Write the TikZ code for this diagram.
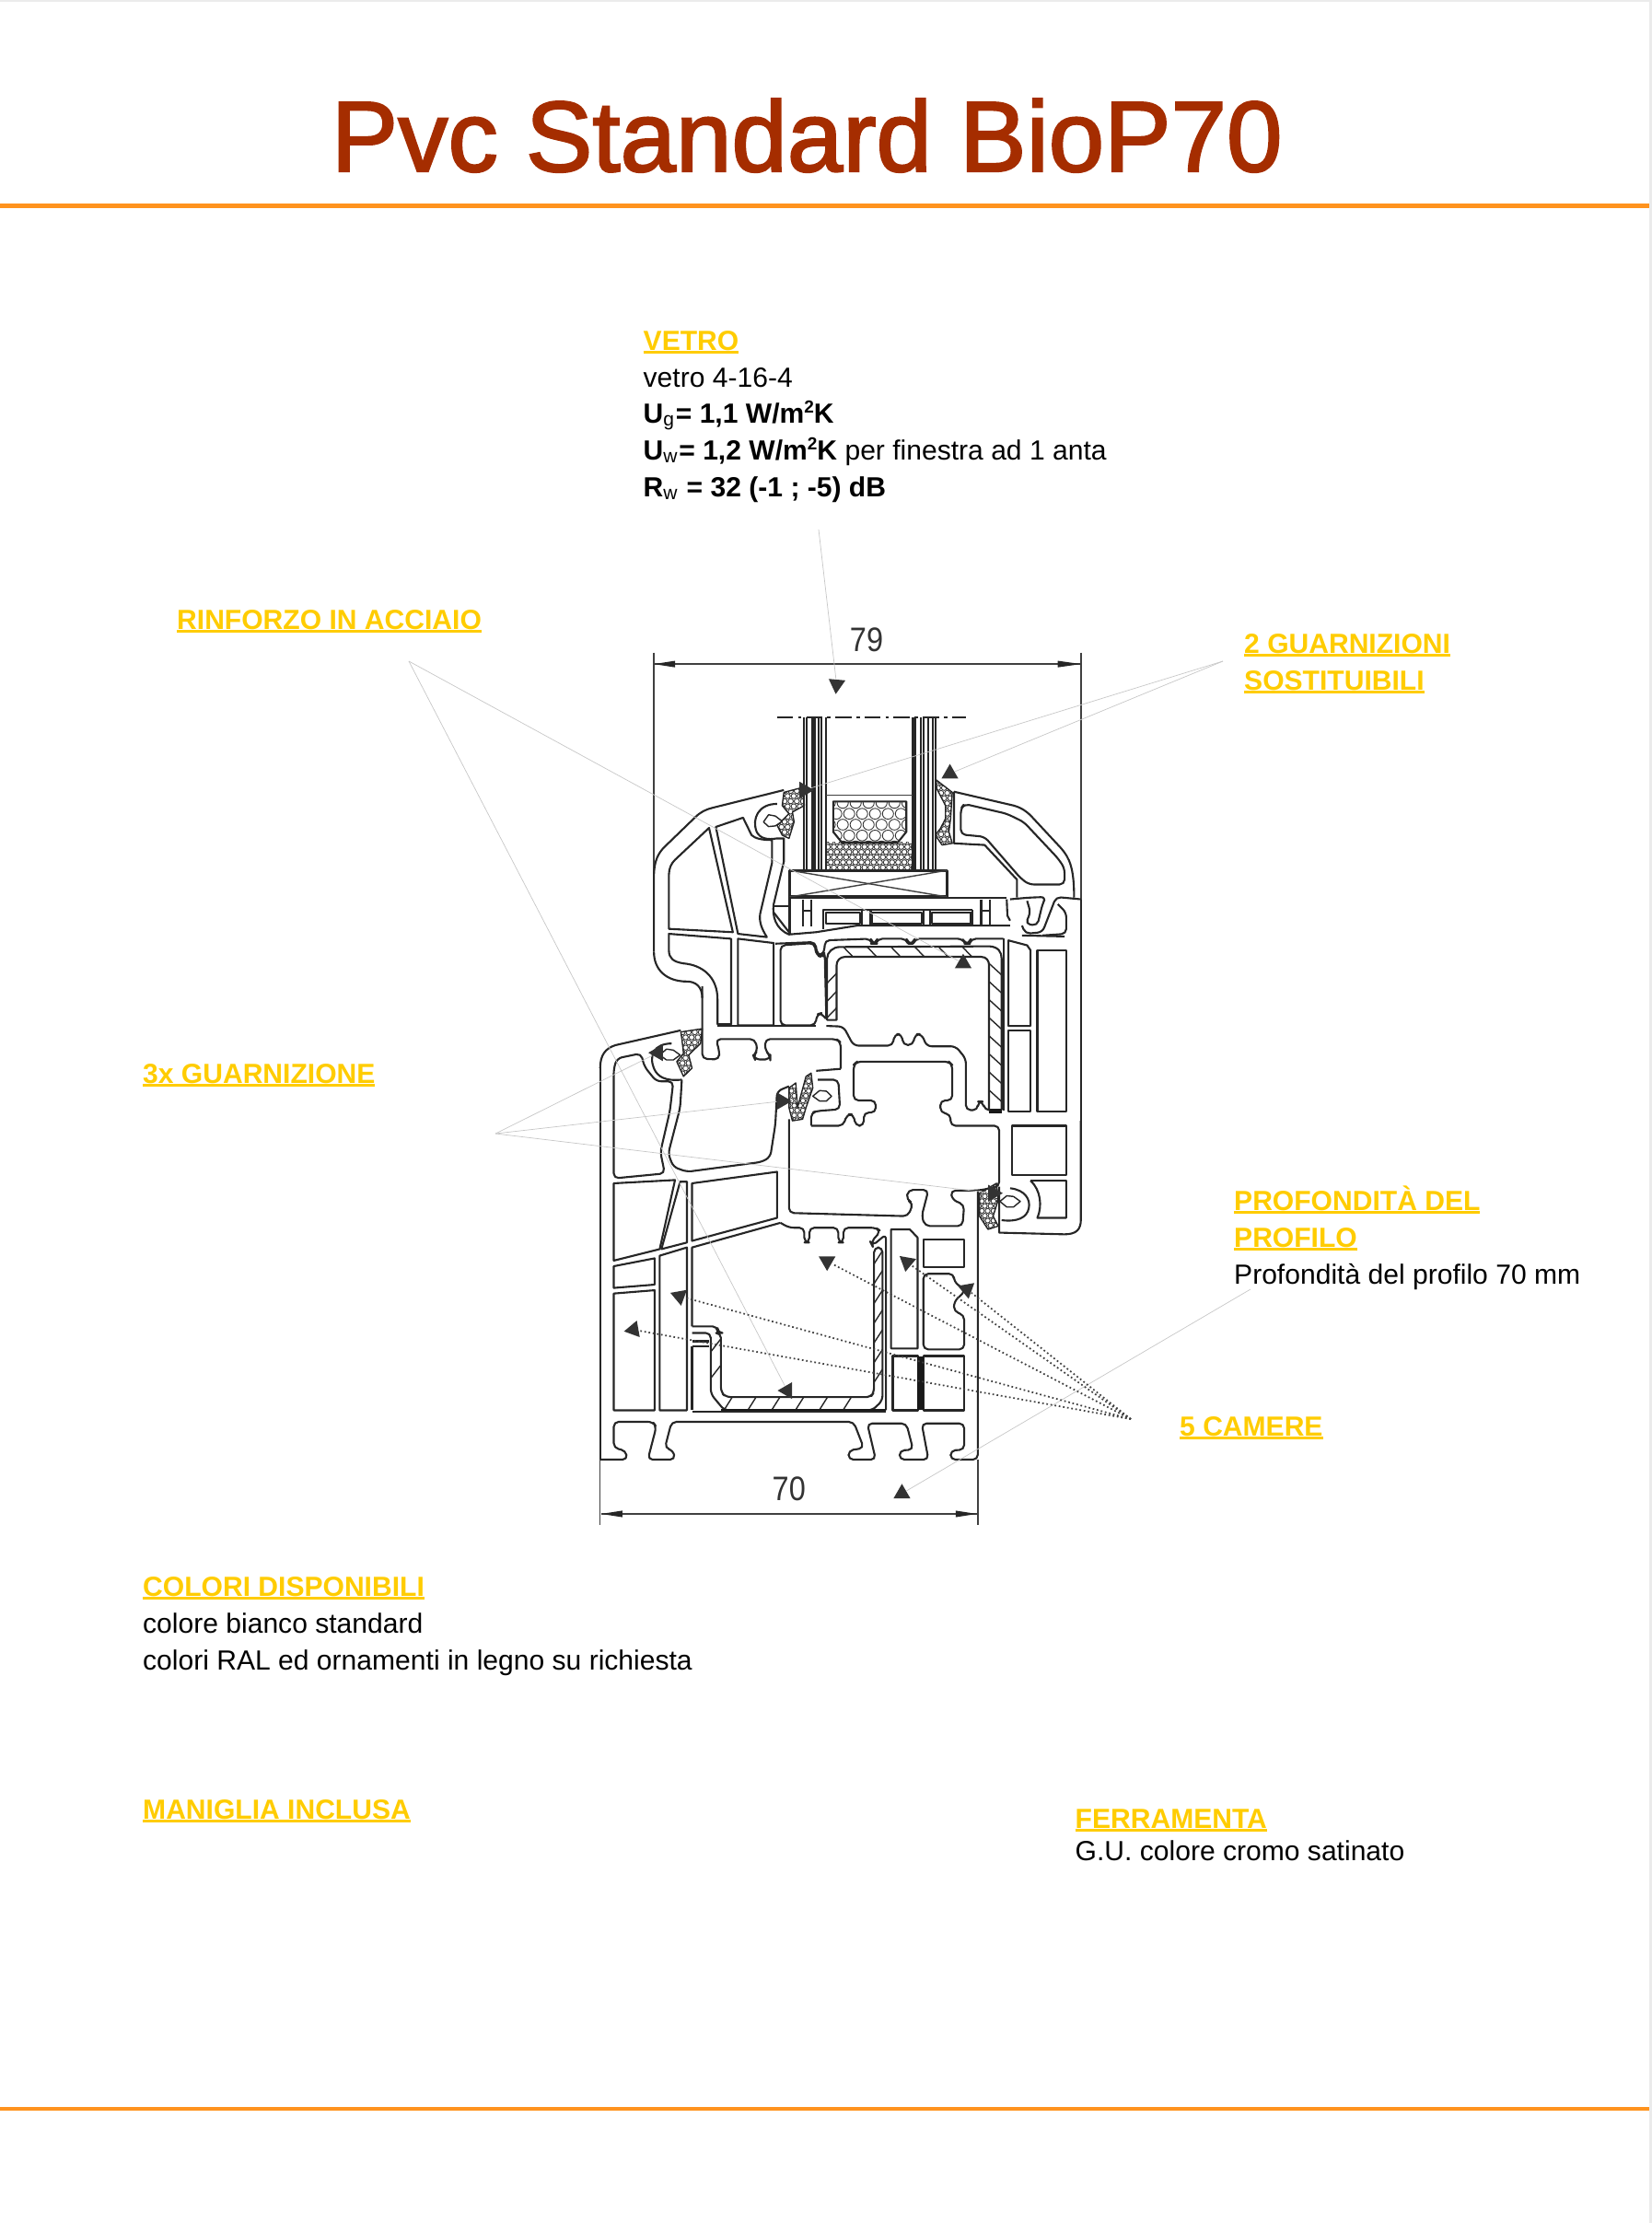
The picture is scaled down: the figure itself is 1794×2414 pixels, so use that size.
\documentclass[tikz,border=0pt]{standalone}
\usepackage{fontspec}
\setmainfont{Liberation Sans}
\newfontfamily\titolofont[FakeBold=2]{Liberation Sans}
\usetikzlibrary{shapes.geometric}
\definecolor{titolocol}{RGB}{165,45,0}
\definecolor{giallo}{RGB}{255,204,0}
\definecolor{arancio}{RGB}{255,147,30}
\newcommand{\gialla}[1]{\setbox0\hbox{\bfseries #1}\rlap{\rule[-0.13em]{\wd0}{0.09em}}\box0}
\newcommand{\quadro}{\raisebox{0.36em}{\fontsize{5.4}{6}\selectfont 2}}
\newcommand{\maglia}[5]{\foreach \i in {0,...,#3}{\foreach \j in {0,...,#4}{\draw[retino] ({#1+(\i+0.5*mod(\j,2))*#5},{#2+\j*#5*0.87}) circle[radius={#5*0.43}];}}}
\tikzset{
  testo/.style={anchor=base west,inner sep=0pt,font=\fontsize{8.55}{10}\selectfont},
  etichetta/.style={testo,text=giallo},
  prof/.style={draw=black!85,line width=0.6pt,line join=round},
  rprof/.style={prof,rounded corners=1.5pt},
  spesso/.style={draw=black!90,line width=1.3pt},
  sottile/.style={draw=black!75,line width=0.4pt},
  retino/.style={draw=black!80,line width=0.25pt},
  guida/.style={draw=black!22,line width=0.2pt},
  punti/.style={draw=black!75,line width=0.5pt,dash pattern=on 0.5pt off 0.8pt},
  freccia/.style={regular polygon,regular polygon sides=3,fill=black!80,inner sep=0pt,minimum size=0.21cm},
  quota/.style={inner sep=0pt,text=black!80,xscale=0.88,font=\fontsize{10.5}{12}\selectfont},
  zuno/.style={x=0.0037cm,y=-0.003571cm,xshift=6.2cm,yshift=-6.6cm},
  zdue/.style={x=0.0037cm,y=-0.003571cm,xshift=6.2cm,yshift=-11.2cm},
}
\begin{document}
\begin{tikzpicture}[x=0.01cm,y=-0.01cm]
\useasboundingbox (0,0) rectangle (1794,2414);
\fill[black!8] (1791,0) rectangle (1794,2414);
\fill[black!8] (0,0) rectangle (1791,1.5);
\draw[arancio,line width=1.3pt] (0,223.5) -- (1791,223.5);
\draw[arancio,line width=1.3pt] (0,2290) -- (1791,2290);
\node[anchor=base west,inner sep=0pt,text=titolocol,font=\fontsize{30.9}{36}\titolofont] (titolo) at (359,186) {Pvc Standard BioP70};

% testi
\node[etichetta] (vetro) at (698,380) {\gialla{VETRO}};
\node[testo] (vetro1) at (698,420) {vetro 4-16-4};
\node[testo] (vetro2) at (698,459) {\textbf{U}\textsubscript{g}\textbf{= 1,1 W/m\quadro K}};
\node[testo] (vetro3) at (698,499) {\textbf{U}\textsubscript{w}\textbf{= 1,2 W/m\quadro K} per finestra ad 1 anta};
\node[testo] (vetro4) at (698,539) {\textbf{R}\textsubscript{w}\textbf{ = 32 (-1 ; -5) dB}};
\node[etichetta] (rinforzo) at (191.5,683) {\gialla{RINFORZO IN ACCIAIO}};
\node[etichetta] (guarn2a) at (1350.5,709) {\gialla{2 GUARNIZIONI}};
\node[etichetta] (guarn2b) at (1350.5,749) {\gialla{SOSTITUIBILI}};
\node[etichetta] (guarn3) at (154.5,1176) {\gialla{3x GUARNIZIONE}};
\node[etichetta] (prof1) at (1339.5,1314) {\gialla{PROFONDITÀ DEL}};
\node[etichetta] (prof2) at (1339.5,1354) {\gialla{PROFILO}};
\node[testo] (prof3) at (1339.5,1394) {Profondità del profilo 70 mm};
\node[etichetta] (camere) at (1280.5,1559) {\gialla{5 CAMERE}};
\node[etichetta] (colori) at (154.5,1733) {\gialla{COLORI DISPONIBILI}};
\node[testo] (colori1) at (154.5,1773) {colore bianco standard};
\node[testo] (colori2) at (154.5,1813) {colori RAL ed ornamenti in legno su richiesta};
\node[etichetta] (maniglia) at (154.5,1975) {\gialla{MANIGLIA INCLUSA}};
\node[etichetta] (ferramenta) at (1167,1985) {\gialla{FERRAMENTA}};
\node[testo] (ferr1) at (1167,2020) {G.U. colore cromo satinato};

\coordinate (oVetro) at (889,575);
\coordinate (oRinf) at (444,718);
\coordinate (oGuarn) at (1328,718);
\coordinate (oTre) at (538,1231);
\coordinate (oCam) at (1228,1541);
\coordinate (oProf) at (1358,1400);

% parte alta
\begin{scope}[zuno]
\draw[sottile] (243,135) -- (243,815);
\draw[sottile] (1498,135) -- (1498,885);
\node[quota] (q79) at (868,95) {79};
\coordinate (q79a) at (243,170);
\coordinate (q79b) at (1498,170);
\draw[sottile] (q79a) -- (q79b);
\fill[black!85] (q79a) -- (305,160) -- (305,180) -- cycle;
\fill[black!85] (q79b) -- (1430,160) -- (1430,180) -- cycle;
% vetro
\draw[prof,dash pattern=on 5pt off 1.5pt on 1pt off 1.5pt,line width=0.5pt] (605,332) -- (1160,332);
\foreach \xx in {685,692,708,715,728,735,748,1003,1010,1028,1035,1050,1062,1070}
  \draw[prof] (\xx,332) -- (\xx,795);
\draw[sottile] (750,568) -- (1003,568);
\begin{scope}
\clip (752,712) rectangle (1000,792);
\maglia{745}{710}{14}{5}{18}
\end{scope}
\draw[prof,fill=white] (770,588) -- (985,588) -- (985,680) -- (960,712) -- (795,712) -- (770,680) -- cycle;
\begin{scope}
\clip (770,588) -- (985,588) -- (985,680) -- (960,712) -- (795,712) -- (770,680) -- cycle;
\maglia{760}{592}{6}{4}{38}
\end{scope}
\draw[prof,line width=0.9pt] (642,797) rectangle (1105,878);
\draw[sottile] (642,797) -- (1105,878);
\draw[sottile] (642,878) -- (1105,797);
% fermavetro sinistro
\draw[prof] (243,1045) -- (243,815) .. controls (243,770) and (255,745) .. (275,725) -- (365,635) .. controls (380,620) and (395,612) .. (415,607) -- (625,553);
\draw[prof] (405,668) -- (475,985) -- (287,975) -- (287,810) .. controls (287,790) and (295,775) .. (305,765) -- cycle;
\draw[prof] (425,665) -- (505,637) -- (530,690) .. controls (540,700) and (560,705) .. (590,705) -- (590,775) -- (555,930) .. controls (552,955) and (560,975) .. (575,1000) -- (490,990) -- cycle;
\draw[prof] (605,595) .. controls (550,595) and (530,640) .. (545,680) .. controls (555,700) and (575,705) .. (605,700) -- (625,700) -- (625,770) -- (595,900) .. controls (590,935) and (600,975) .. (640,992) -- (720,985) -- (840,965) -- (1290,965);
% guarnizioni alte
\begin{scope}
\clip (625,560) -- (680,545) -- (685,600) -- (650,620) -- (655,650) -- (640,700) -- (620,690) -- (605,660) -- (640,625) -- (620,600) -- cycle;
\maglia{600}{540}{5}{11}{18}
\end{scope}
\draw[prof,line width=0.4pt] (625,560) -- (680,545) -- (685,600) -- (650,620) -- (655,650) -- (640,700) -- (620,690) -- (605,660) -- (640,625) -- (620,600) -- cycle;
\draw[prof,fill=white,line width=0.4pt] (565,650) -- (580,628) -- (600,632) -- (620,648) -- (600,662) -- (580,664) -- cycle;
\begin{scope}
\clip (1070,520) -- (1120,560) -- (1115,640) -- (1110,680) -- (1120,715) -- (1090,720) -- (1070,690) -- (1085,670) -- (1100,640) -- (1100,600) -- (1075,550) -- cycle;
\maglia{1060}{515}{4}{13}{18}
\end{scope}
\draw[prof,line width=0.4pt] (1070,520) -- (1120,560) -- (1115,640) -- (1110,680) -- (1120,715) -- (1090,720) -- (1070,690) -- (1085,670) -- (1100,640) -- (1100,600) -- (1075,550) -- cycle;
% fermavetro destro
\draw[prof] (1125,558) -- (1300,600) .. controls (1325,607) and (1340,620) .. (1350,630) -- (1440,730) .. controls (1465,760) and (1478,790) .. (1478,880);
\draw[prof] (1125,558) -- (1125,715) -- (1215,720) -- (1310,825) -- (1310,880);
\draw[rprof] (1155,595) -- (1280,625) -- (1330,650) -- (1430,760) -- (1450,790) -- (1450,840) -- (1345,840) -- (1320,820) -- (1215,695) -- (1145,688) -- (1145,610) -- cycle;
% anta
\draw[prof] (642,880) -- (1280,880);
\draw[prof] (642,878) -- (642,990);
\draw[prof] (595,905) -- (642,905);
\draw[prof] (595,925) -- (640,985);
\foreach \xx in {680,705,1205,1230}
  \draw[prof] (\xx,885) -- (\xx,968);
\draw[prof] (680,920) -- (705,920);
\draw[prof] (1205,920) -- (1230,920);
\draw[prof] (740,975) -- (740,918) -- (1180,918);
\foreach \xx in {855,880,1035,1055,1180}
  \draw[prof] (\xx,918) -- (\xx,965);
\draw[prof] (748,960) rectangle (850,925);
\draw[prof] (885,960) rectangle (1030,925);
\draw[prof] (1060,960) rectangle (1175,925);
\draw[prof] (1280,885) -- (1282,935) -- (1290,950);
\draw[rprof] (1290,885) -- (1345,880) -- (1395,878) -- (1385,900) -- (1370,965) -- (1335,960) -- (1350,925) -- (1340,890);
\draw[rprof] (1498,885) -- (1425,878) -- (1415,905) -- (1385,985) -- (1335,990) -- (1325,965);
\draw[rprof] (1430,900) -- (1455,925) -- (1455,990) -- (1385,995);
\draw[prof] (1325,995) -- (1450,998);
\draw[rprof] (600,1020) -- (718,1015) -- (722,1050) -- (735,1058) -- (745,1040) -- (745,1010) -- (880,1005) -- (885,1020) -- (895,1020) -- (900,1005) -- (985,1005) -- (990,1020) -- (1005,1020) -- (1010,1005) -- (1150,1005) -- (1158,1020) -- (1170,1020) -- (1175,1005) -- (1270,1005);
% camere anta
\draw[prof] (287,990) -- (470,1005) -- (470,1265) -- (430,1265) -- (430,1190) .. controls (430,1120) and (385,1085) .. (330,1080) .. controls (300,1075) and (287,1065) .. (287,1040) -- cycle;
\draw[prof] (490,1005) -- (595,1018) -- (595,1268) -- (490,1268) -- cycle;
\draw[rprof] (615,1025) -- (715,1018) -- (720,1055) -- (740,1062) -- (745,1045) -- (750,1255) -- (738,1230) -- (722,1235) -- (718,1268) -- (615,1268) -- cycle;
% rinforzo alto
\draw[prof] (752,1252) -- (752,1065) .. controls (752,1045) and (770,1030) .. (790,1030) -- (1230,1028) .. controls (1255,1030) and (1265,1045) .. (1265,1065) -- (1265,1525) -- (1228,1525) -- (1228,1085) .. controls (1228,1072) and (1220,1060) .. (1205,1060) -- (805,1060) .. controls (790,1060) and (780,1072) .. (780,1085) -- (780,1252) -- cycle;
\foreach \xx in {800,870,940,1010,1080,1150}
  \draw[prof,line width=0.4pt] (\xx,1030) -- (\xx+28,1060);
\foreach \yy in {1080,1135,1190,1245,1300,1355,1410,1465}
  \draw[prof,line width=0.4pt] (1228,\yy) -- (1265,\yy+35);
\foreach \yy in {1110,1165,1215}
  \draw[prof,line width=0.4pt] (752,\yy+30) -- (780,\yy);
\draw[spesso] (1228,1528) -- (1265,1528);
% colonna destra
\draw[prof] (1285,1010) -- (1340,1025) -- (1350,1040) -- (1350,1270) -- (1285,1270) -- cycle;
\draw[prof] (1285,1285) rectangle (1350,1530);
\draw[prof] (1370,1040) rectangle (1455,1530);
\draw[prof] (1270,1005) -- (1270,1528);
\draw[prof] (1498,885) -- (1498,1830);
% lungo la parte bassa
\draw[rprof] (385,1150) -- (385,1370) -- (435,1372) -- (435,1345) -- (425,1310) -- (540,1310) -- (548,1345) -- (535,1360) -- (540,1372) -- (585,1372) -- (585,1360) -- (570,1345) -- (570,1310) -- (780,1310) -- (792,1320) -- (792,1400);
\draw[prof] (430,1270) -- (718,1270);
\draw[rprof] (750,1270) -- (800,1272) -- (830,1330) -- (945,1330) -- (950,1295) -- (972,1295) -- (975,1328) -- (1005,1328) -- (1010,1295) -- (1030,1295) -- (1045,1332) -- (1130,1332) -- (1160,1370) -- (1160,1526) -- (1195,1526) -- (1195,1500) -- (1210,1500) -- (1215,1526) -- (1228,1526);
\draw[prof] (243,1045) .. controls (243,1100) and (280,1135) .. (340,1135) .. controls (365,1135) and (385,1150) .. (385,1185);
\node[freccia,rotate=175] (tv) at (780,232) {};
\node[freccia] (tg1) at (1113,503) {};
\node[freccia,rotate=-90] (tg2) at (685,553) {};
\node[freccia] (tr1) at (1152,1080) {};
\end{scope}

% parte bassa
\begin{scope}[zdue]
\draw[prof] (85,110) .. controls (85,70) and (100,50) .. (130,40) -- (322,-5);
\draw[rprof] (125,110) -- (135,80) -- (205,65) -- (215,105) -- (250,150) -- (300,150) -- (290,240) -- (262,365) -- (275,430) -- (125,445) -- cycle;
\draw[prof] (85,110) -- (85,1300);
% guarnizione sinistra
\begin{scope}
\clip (322,0) -- (385,-10) -- (380,35) -- (345,70) -- (355,110) -- (330,135) -- (310,90) -- (330,65) -- (325,20) -- cycle;
\maglia{300}{-15}{5}{11}{18}
\end{scope}
\draw[prof,line width=0.4pt] (322,0) -- (385,-10) -- (380,35) -- (345,70) -- (355,110) -- (330,135) -- (310,90) -- (330,65) -- (325,20) -- cycle;
\draw[prof] (295,35) .. controls (245,35) and (225,70) .. (245,115) .. controls (255,135) and (275,150) .. (325,145);
\draw[prof,fill=white,line width=0.4pt] (260,70) -- (280,52) -- (300,55) -- (320,70) -- (300,85) -- (280,85) -- cycle;
% pareti
\draw[rprof] (325,145) -- (320,230) -- (285,370) -- (300,410) -- (340,425) -- (560,395) -- (585,380) -- (600,280) -- (605,180) -- (640,165);
\draw[prof] (792,112) -- (720,118);
\draw[rprof] (725,145) -- (785,145) -- (790,235) -- (725,240) -- (705,245) -- (705,285);
\begin{scope}
\clip (640,170) -- (660,155) -- (665,230) -- (690,135) -- (705,125) -- (710,170) -- (690,230) -- (680,265) -- (650,270) -- (640,230) -- cycle;
\maglia{630}{120}{5}{10}{17}
\end{scope}
\draw[prof,line width=0.4pt] (640,170) -- (660,155) -- (665,230) -- (690,135) -- (705,125) -- (710,170) -- (690,230) -- (680,265) -- (650,270) -- (640,230) -- cycle;
\draw[prof,fill=white,line width=0.4pt] (710,195) -- (730,178) -- (750,180) -- (765,195) -- (750,210) -- (730,210) -- cycle;
% camere centrali
\draw[rprof] (705,285) -- (800,285) -- (810,250) -- (830,250) -- (835,285) -- (860,285) -- (860,245) -- (895,245) -- (895,208) -- (830,208) -- (830,100) -- (840,90) -- (1110,90) -- (1120,100) -- (1120,208) -- (1085,208) -- (1085,245) -- (1115,250) -- (1115,285) -- (1258,285) -- (1258,470) -- (1195,482) -- (1115,482) -- (1120,510) -- (1155,525) -- (1150,590) -- (1040,590) -- (1030,560) -- (1050,480) -- (990,480) -- (985,510) -- (1005,520) -- (990,560) -- (640,550) -- (640,265);
\draw[rprof] (615,580) -- (640,595) -- (685,595) -- (685,640) -- (700,640) -- (700,595) -- (785,595) -- (785,640) -- (800,640) -- (800,595) -- (895,595) -- (910,605) -- (880,640) -- (885,650) -- (925,615) -- (925,1150);
\draw[prof] (615,580) -- (355,655) -- (355,895);
\draw[prof] (355,1150) -- (355,955);
% rinforzo basso
\draw[rprof] (355,895) -- (430,895) -- (430,915) -- (440,915) -- (440,1095) -- (455,1110) -- (880,1110) -- (890,1095) -- (890,655) -- (915,655) -- (915,1120) -- (885,1150) -- (450,1150) -- (410,1100) -- (410,915) -- (355,915);
\draw[prof] (355,940) -- (405,940);
\draw[prof] (355,955) -- (405,955);
\foreach \yy in {665,725,785,845,905,965,1025}
  \draw[prof,line width=0.4pt] (890,\yy+40) -- (915,\yy);
\foreach \xx in {450,520,590,660,730,800}
  \draw[prof,line width=0.4pt] (\xx,1148) -- (\xx+22,1112);
\foreach \yy in {935,1015}
  \draw[prof,line width=0.4pt] (412,\yy+35) -- (438,\yy);
\draw[spesso] (440,1152) -- (925,1152);
\draw[prof] (355,1155) -- (925,1155);
% camere telaio
\draw[prof] (125,460) -- (305,450) -- (260,660) -- (125,695) -- cycle;
\draw[prof] (320,455) -- (340,455) -- (340,640) -- (265,660) -- cycle;
\draw[prof] (355,460) -- (605,425) -- (605,565) -- (355,635) -- cycle;
\draw[prof] (125,712) -- (245,688) -- (245,768) -- (125,778) -- cycle;
\draw[prof] (125,795) -- (245,785) -- (245,1150) -- (125,1150) -- cycle;
\draw[prof] (260,680) -- (340,655) -- (340,1150) -- (260,1150) -- cycle;
\draw[prof] (940,600) -- (995,600) -- (1018,625) -- (1018,962) -- (940,962) -- cycle;
\draw[prof] (1035,630) rectangle (1155,715);
\draw[rprof] (1035,735) -- (1125,735) -- (1125,760) -- (1160,785) -- (1125,820) -- (1125,850) -- (1155,860) -- (1155,965) -- (1035,965) -- cycle;
\draw[prof] (945,985) rectangle (1020,1150);
\draw[prof] (1035,985) rectangle (1155,1150);
\draw[spesso,line width=2pt] (1027,985) -- (1027,1150);
\draw[prof] (1295,285) rectangle (1455,435);
\draw[prof] (1350,452) -- (1455,452) -- (1455,565) -- (1370,565) .. controls (1385,530) and (1380,480) .. (1350,452);
% guarnizione destra
\begin{scope}
\clip (1200,490) -- (1250,460) -- (1255,510) -- (1240,560) -- (1255,590) -- (1225,600) -- (1200,560) -- cycle;
\maglia{1190}{455}{5}{10}{17}
\end{scope}
\draw[prof,line width=0.4pt] (1200,490) -- (1250,460) -- (1255,510) -- (1240,560) -- (1255,590) -- (1225,600) -- (1200,560) -- cycle;
\draw[prof] (1290,475) .. controls (1335,480) and (1350,510) .. (1345,535) .. controls (1340,565) and (1310,578) .. (1265,572);
\draw[prof,fill=white,line width=0.4pt] (1260,515) -- (1280,498) -- (1300,500) -- (1320,515) -- (1300,532) -- (1280,532) -- cycle;
\draw[prof] (1258,470) -- (1258,610) -- (1450,615) .. controls (1485,615) and (1498,600) .. (1498,570) -- (1498,270);
% telaio esterno
\draw[rprof] (85,1300) -- (165,1300) -- (160,1272) -- (125,1265) -- (125,1185) -- (240,1185) -- (250,1200) -- (225,1300) -- (305,1300) -- (300,1272) -- (275,1265) -- (295,1185) -- (830,1185) -- (860,1265) -- (815,1272) -- (815,1300) -- (895,1300) -- (870,1190) -- (985,1190) -- (1005,1270) -- (965,1272) -- (965,1300) -- (1050,1300) -- (1030,1190) -- (1155,1190) -- (1155,1270) -- (1115,1272) -- (1115,1300) -- (1195,1300) -- (1195,482);
% quota 70
\draw[sottile] (85,1300) -- (85,1500);
\draw[sottile] (1195,1300) -- (1195,1500);
\node[quota] (q70) at (640,1390) {70};
\coordinate (q70a) at (88,1465);
\coordinate (q70b) at (1192,1465);
\draw[sottile] (q70a) -- (q70b);
\fill[black!85] (q70a) -- (150,1455) -- (150,1475) -- cycle;
\fill[black!85] (q70b) -- (1130,1455) -- (1130,1475) -- cycle;
% frecce
\node[freccia,rotate=90] (tr2) at (635,1090) {};
\node[freccia,rotate=180] (tc1) at (752,697) {};
\node[freccia,rotate=170] (tc2) at (987,700) {};
\node[freccia,rotate=-170] (tc3) at (1163,782) {};
\node[freccia,rotate=190] (tc4) at (318,803) {};
\node[freccia,rotate=100] (tc5) at (183,905) {};
\node[freccia,rotate=90] (tg3) at (255,63) {};
\node[freccia,rotate=-90] (tg4) at (620,210) {};
\node[freccia,rotate=-90] (tg5) at (1240,490) {};
\node[freccia] (tp) at (972,1403) {};
\end{scope}

% richiami
\draw[guida] (oVetro) -- (tv);
\foreach \tt in {tr1,tr2} \draw[guida] (oRinf) -- (\tt);
\foreach \tt in {tg1,tg2} \draw[guida] (oGuarn) -- (\tt);
\foreach \tt in {tg3,tg4,tg5} \draw[guida] (oTre) -- (\tt);
\draw[guida] (oProf) -- (tp);
\foreach \tt in {tc1,tc2,tc3,tc4,tc5} \draw[punti] (oCam) -- (\tt);
\end{tikzpicture}
\end{document}
